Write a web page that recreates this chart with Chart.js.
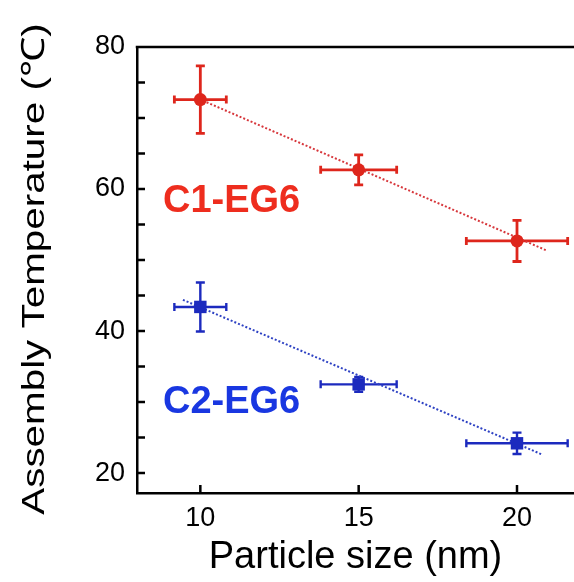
<!DOCTYPE html>
<html>
<head>
<meta charset="utf-8">
<script src="https://cdn.jsdelivr.net/npm/chart.js@4"></script>
<style>
  html, body { margin: 0; padding: 0; background: #fff; overflow: hidden; }
  #chart { display: block; }
</style>
</head>
<body>
<canvas id="chart" width="574" height="582"></canvas>
<script>
// particle size (nm) and its error
const sizes = [10, 15, 20];
const sizeErr = [0.82, 1.2, 1.6];

// assembly temperatures (°C)
const c1Temp = [72.6, 62.7, 52.7];
const c1TempErr = [4.75, 2.1, 2.9];
const c2Temp = [43.4, 32.5, 24.2];
const c2TempErr = [3.45, 1.05, 1.5];

// linear fits (end points)
const fitRedX = [9.85, 20.96];
const fitRedY = [72.9, 51.3];
const fitBlueX = [9.45, 20.8];
const fitBlueY = [44.4, 22.6];

const xTicks = [10, 15, 20];
const yLabels = [20, 40, 60, 80];

const RED = 'rgb(222, 38, 28)';
const BLUE = 'rgb(28, 42, 190)';
const FONT = '"Liberation Sans", Arial, Helvetica, sans-serif';

const pts = (xs, ys) => xs.map((x, i) => ({ x: x, y: ys[i] }));

// error bars, inward tick marks, top frame line and the two labels
const decorations = {
    id: 'decorations',
    beforeDatasetsDraw(chart) {
        const { ctx, scales: { x, y } } = chart;
        const bars = [
            { ys: c1Temp, ye: c1TempErr, color: RED, lw: 2.8 },
            { ys: c2Temp, ye: c2TempErr, color: BLUE, lw: 2.4 }
        ];
        ctx.save();
        bars.forEach(b => {
            ctx.strokeStyle = b.color;
            ctx.lineWidth = b.lw;
            sizes.forEach((s, i) => {
                const px = x.getPixelForValue(s);
                const py = y.getPixelForValue(b.ys[i]);
                const x0 = x.getPixelForValue(s - sizeErr[i]);
                const x1 = x.getPixelForValue(s + sizeErr[i]);
                const y0 = y.getPixelForValue(b.ys[i] + b.ye[i]);
                const y1 = y.getPixelForValue(b.ys[i] - b.ye[i]);
                ctx.beginPath();
                ctx.moveTo(x0, py); ctx.lineTo(x1, py);
                ctx.moveTo(x0, py - 4); ctx.lineTo(x0, py + 4);
                ctx.moveTo(x1, py - 4); ctx.lineTo(x1, py + 4);
                ctx.moveTo(px, y0); ctx.lineTo(px, y1);
                ctx.moveTo(px - 4.5, y0); ctx.lineTo(px + 4.5, y0);
                ctx.moveTo(px - 4.5, y1); ctx.lineTo(px + 4.5, y1);
                ctx.stroke();
            });
        });
        ctx.restore();
    },
    afterDraw(chart) {
        const { ctx, chartArea: a, scales: { x, y } } = chart;
        ctx.save();
        ctx.strokeStyle = '#000';
        ctx.lineWidth = 2.5;
        ctx.beginPath();
        ctx.moveTo(a.left - 1.25, a.top);
        ctx.lineTo(a.right + 2, a.top);
        x.ticks.forEach(t => {
            const px = x.getPixelForValue(t.value);
            ctx.moveTo(px, a.bottom);
            ctx.lineTo(px, a.bottom - 8);
        });
        y.ticks.forEach(t => {
            const py = y.getPixelForValue(t.value);
            ctx.moveTo(a.left, py);
            ctx.lineTo(a.left + 8, py);
        });
        ctx.stroke();

        // series labels
        ctx.font = 'bold 38px ' + FONT;
        ctx.textAlign = 'left';
        ctx.textBaseline = 'alphabetic';
        ctx.fillStyle = 'rgb(238, 45, 30)';
        ctx.fillText('C1-EG6', x.getPixelForValue(8.82), y.getPixelForValue(56.8));
        ctx.fillStyle = 'rgb(25, 55, 225)';
        ctx.fillText('C2-EG6', x.getPixelForValue(8.82), y.getPixelForValue(28.5));

        // y axis title, a little stretched along its length
        ctx.fillStyle = '#000';
        ctx.font = '32px ' + FONT;
        ctx.textAlign = 'center';
        ctx.translate(44, 269);
        ctx.rotate(-Math.PI / 2);
        ctx.scale(1.262, 1);
        ctx.fillText('Assembly Temperature (\u2103)', 0, 0);
        ctx.restore();
    }
};

new Chart(document.getElementById('chart'), {
    type: 'scatter',
    data: {
        datasets: [
            {
                data: pts(sizes, c1Temp),
                pointStyle: 'circle',
                pointRadius: 6.5,
                pointBackgroundColor: RED,
                pointBorderColor: RED,
                pointBorderWidth: 0,
                order: 0
            },
            {
                data: pts(sizes, c2Temp),
                pointStyle: 'rect',
                pointRadius: 8.8,
                pointBackgroundColor: BLUE,
                pointBorderColor: BLUE,
                pointBorderWidth: 0,
                order: 0
            },
            {
                type: 'line',
                data: pts(fitRedX, fitRedY),
                borderColor: 'rgb(215, 55, 60)',
                borderWidth: 2,
                borderDash: [2, 2],
                pointRadius: 0,
                fill: false,
                order: 1
            },
            {
                type: 'line',
                data: pts(fitBlueX, fitBlueY),
                borderColor: 'rgb(45, 65, 195)',
                borderWidth: 2,
                borderDash: [2, 2],
                pointRadius: 0,
                fill: false,
                order: 1
            }
        ]
    },
    options: {
        responsive: false,
        animation: false,
        events: [],
        layout: { autoPadding: false, padding: { top: 47, right: 0, left: 0, bottom: 0 } },
        plugins: { legend: { display: false }, tooltip: { enabled: false } },
        scales: {
            x: {
                type: 'linear',
                min: 8,
                max: 21.8,
                afterFit: s => { s.height = 89; s.paddingLeft = 0; s.paddingRight = 0; },
                grid: { display: false, drawTicks: false },
                border: { display: true, color: '#000', width: 2.5 },
                ticks: {
                    stepSize: 5,
                    includeBounds: false,
                    padding: 9,
                    color: '#000',
                    font: { family: FONT, size: 27 },
                    callback: v => (xTicks.includes(v) ? String(v) : '')
                },
                title: {
                    display: true,
                    text: 'Particle size (nm)',
                    color: '#000',
                    font: { family: FONT, size: 38 },
                    padding: { top: 0, bottom: 2 }
                }
            },
            y: {
                type: 'linear',
                min: 17.2,
                max: 80,
                afterFit: s => { s.width = 137; s.paddingTop = 0; s.paddingBottom = 0; },
                grid: { display: false, drawTicks: false },
                border: { display: true, color: '#000', width: 2.5 },
                ticks: {
                    stepSize: 5,
                    includeBounds: false,
                    padding: 12,
                    color: '#000',
                    font: { family: FONT, size: 27 },
                    callback: v => (yLabels.includes(v) ? String(v) : '')
                }
            }
        }
    },
    plugins: [decorations]
});
</script>
</body>
</html>
